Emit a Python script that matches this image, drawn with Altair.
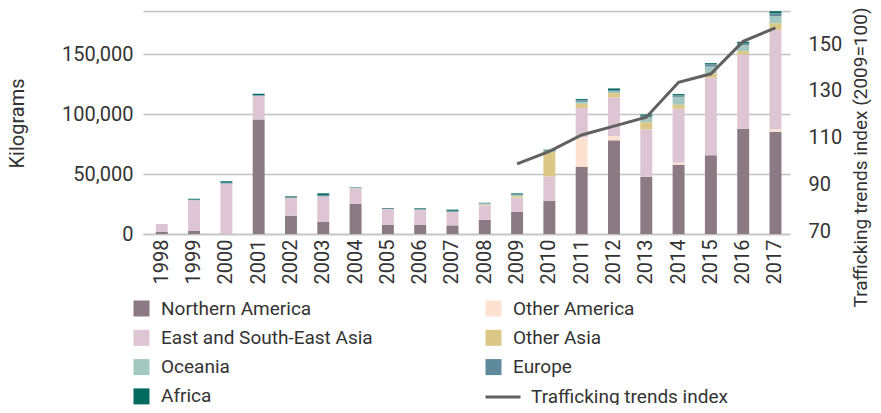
import altair as alt
import pandas as pd

years = [str(y) for y in range(1998, 2018)]

regions = ["Northern America", "Other America", "East and South-East Asia",
           "Other Asia", "Oceania", "Europe", "Africa"]
colors = ["#8b7a84", "#fde2d2", "#dec5d3", "#dcc886", "#a2c8bf", "#5e8a9c", "#006a5e"]

northern_america = [2000, 2800, 0, 95600, 15300, 10300, 25000, 7800, 7800, 7200,
                    11900, 18600, 27500, 56100, 78100, 47800, 57800, 65600, 87800, 85300]
other_america = [0, 0, 0, 0, 0, 0, 0, 0, 0, 0,
                 0, 0, 0, 24500, 3300, 0, 1600, 0, 0, 1900]
east_se_asia = [6300, 25500, 42200, 19700, 14700, 21100, 13100, 12800, 12500, 11100,
                12000, 11700, 20600, 24400, 32500, 39400, 45000, 64700, 61900, 82800]
other_asia = [0, 0, 0, 0, 0, 0, 0, 0, 0, 0,
              600, 1100, 20000, 3600, 3600, 6100, 3400, 3600, 2800, 5800]
oceania = [0, 0, 0, 0, 0, 0, 600, 300, 0, 300,
           800, 1100, 800, 1700, 1400, 3900, 6600, 5800, 5000, 5900]
europe = [0, 300, 500, 500, 500, 1000, 500, 800, 400, 700,
          800, 600, 700, 1100, 1100, 1400, 1100, 1700, 1400, 2200]
africa = [0, 800, 1200, 1200, 900, 1500, 0, 0, 700, 1000,
          0, 800, 700, 1100, 1400, 1100, 1200, 1100, 1400, 1900]

index_years = [str(y) for y in range(2009, 2018)]
index_values = [100, 105.4, 112.4, 116.2, 120.0, 135.0, 138.6, 152.5, 158.3]

series = [northern_america, other_america, east_se_asia, other_asia, oceania, europe, africa]
rows = []
for order, (reg, vals) in enumerate(zip(regions, series)):
    for yr, v in zip(years, vals):
        rows.append({"year": yr, "region": reg, "value": v, "order": order})
bars_df = pd.DataFrame(rows)
line_df = pd.DataFrame({"year": index_years, "index": index_values,
                        "series": ["Trafficking trends index"] * len(index_years)})

left_regs = ["Northern America", "East and South-East Asia", "Oceania", "Africa"]
right_regs = ["Other America", "Other Asia", "Europe"]
cmap = dict(zip(regions, colors))

FONT = "Roboto"
TXT = "#333333"
GRID = "#c2c2c2"

xenc = alt.X("year:O", title=None,
             scale=alt.Scale(paddingInner=0.63, paddingOuter=0.33, align=0.6),
             axis=alt.Axis(labelAngle=270, labelAlign="right", labelBaseline="middle",
                           labelPadding=5, ticks=False, domain=True, domainColor=GRID,
                           domainWidth=1.4, labelFontSize=20))

ymax = 186000

yaxis = alt.Axis(values=[0, 50000, 100000, 150000, ymax],
                 labelExpr="datum.value > 160000 ? '' : format(datum.value, ',')",
                 ticks=False, domain=False, grid=True, gridColor=GRID, gridWidth=1.4,
                 labelPadding=10, labelFontSize=20, title="Kilograms",
                 titleFontSize=20, titleFontWeight="normal", titleAngle=270,
                 titleX=-126, titleY=112, titleAlign="center", titleBaseline="middle")


def bar_layer(regs, legend):
    return alt.Chart(bars_df).transform_stack(
        stack="value", groupby=["year"], sort=[alt.SortField("order")], as_=["y0", "y1"]
    ).transform_filter(
        alt.FieldOneOfPredicate(field="region", oneOf=regs)
    ).mark_bar().encode(
        x=xenc,
        y=alt.Y("y0:Q", scale=alt.Scale(domain=[0, ymax], nice=False), axis=yaxis),
        y2="y1:Q",
        color=alt.Color("region:N",
                        scale=alt.Scale(domain=regs, range=[cmap[r] for r in regs]),
                        legend=legend),
    )


def reg_legend(x, y):
    return alt.Legend(orient="none", legendX=x, legendY=y, direction="vertical",
                      title=None, symbolType="square", symbolSize=256,
                      symbolStrokeWidth=0, labelFontSize=19, labelFont=FONT,
                      labelColor=TXT, labelOffset=10, labelLimit=400,
                      rowPadding=9.3, padding=0)


barsA = bar_layer(left_regs, reg_legend(-11, 288))
barsB = bar_layer(right_regs, reg_legend(341, 288))
bars = alt.layer(barsA, barsB).resolve_scale(color="independent")

line = alt.Chart(line_df).mark_line(strokeWidth=3).encode(
    x=alt.X("year:O"),
    y=alt.Y("index:Q", scale=alt.Scale(domain=[70, 165.5], nice=False, zero=False),
            axis=alt.Axis(orient="right", values=[70, 90, 110, 130, 150], grid=False,
                          ticks=False, domain=False, labelPadding=18, labelFontSize=20,
                          labelOffset=-3,
                          title="Trafficking trends index (2009=100)", titleFontSize=19,
                          titleFontWeight="normal", titleAngle=270, titleX=70, titleY=-4,
                          titleAlign="right", titleBaseline="middle")),
    color=alt.Color("series:N", scale=alt.Scale(range=["#606060"]),
                    legend=alt.Legend(orient="none", legendX=341, legendY=367,
                                      title=None, symbolType="stroke", symbolSize=1225,
                                      symbolStrokeWidth=3, labelFontSize=19, labelFont=FONT,
                                      labelColor=TXT, labelOffset=9, labelLimit=400,
                                      padding=0)),
)

chart = alt.layer(bars, line).resolve_scale(
    y="independent", color="independent"
).properties(
    width=647, height=223,
    autosize=alt.AutoSizeParams(type="none"),
    padding={"left": 135, "top": 3, "right": 83, "bottom": 171},
).configure_view(stroke=None).configure_axis(
    labelFont=FONT, titleFont=FONT, labelColor=TXT, titleColor=TXT
).configure_legend(labelFont=FONT)

chart.save("out.html", embed_options={"renderer": "svg", "actions": False})
